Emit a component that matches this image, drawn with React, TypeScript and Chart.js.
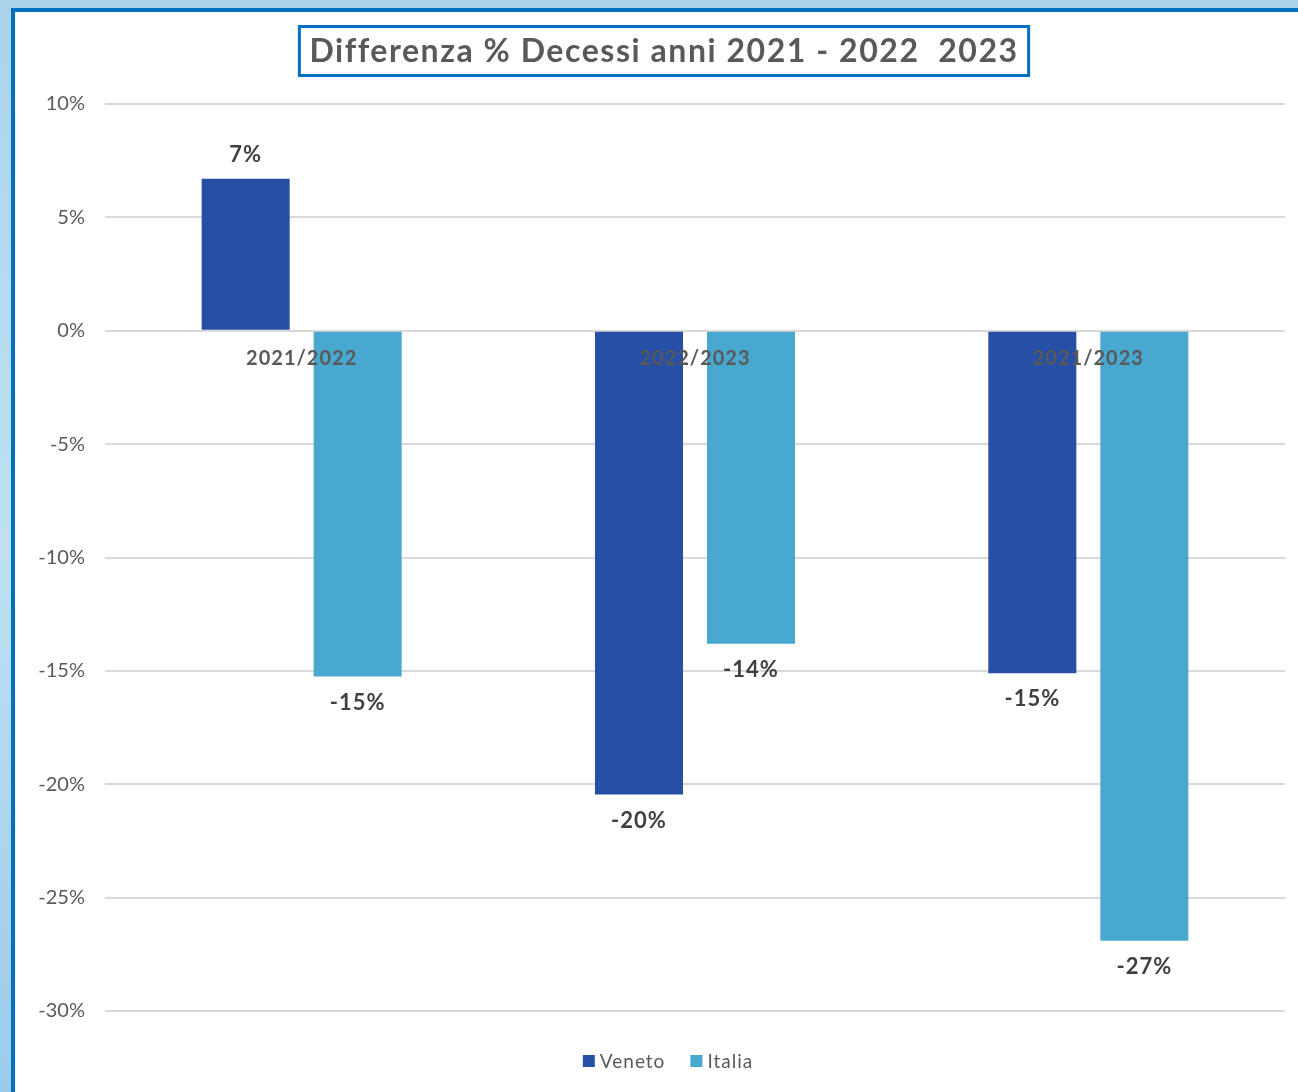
import React, { useEffect, useRef } from "react";
import { Chart, registerables } from "chart.js";

Chart.register(...registerables);

const categories = ["2021/2022", "2022/2023", "2021/2023"];
const seriesNames = ["Veneto", "Italia"];
const venetoValues = [6.7, -20.45, -15.1];
const italiaValues = [-15.25, -13.8, -26.9];
const seriesColors = ["#264FA5", "#49A8D0"];
const titleText = "Differenza % Decessi anni 2021 - 2022  2023";
const yMin = -30;
const yMax = 10;
const yStep = 5;

const FONT = "Lato, 'Open Sans', sans-serif";
const TEXT_GRAY = "#595959";
const LABEL_DARK = "#404040";
const FRAME_BLUE = "#0070C0";

const overlayPlugin = {
  id: "overlay",
  afterDatasetsDraw(chart: any) {
    const ctx = chart.ctx;
    const xs = chart.scales.x;
    const ys = chart.scales.y;
    ctx.save();
    ctx.textAlign = "center";
    ctx.textBaseline = "middle";
    // value labels
    ctx.font = `bold 22px ${FONT}`;
    (ctx as any).letterSpacing = "1px";
    ctx.fillStyle = LABEL_DARK;
    chart.data.datasets.forEach((ds: any, di: number) => {
      const meta = chart.getDatasetMeta(di);
      meta.data.forEach((bar: any, i: number) => {
        const v = ds.data[i];
        const yy = v >= 0 ? bar.y - 24 : bar.y + 26;
        ctx.fillText(`${Math.round(v)}%`, bar.x, yy);
      });
    });
    // category labels at zero line
    const y0 = ys.getPixelForValue(0);
    ctx.font = `bold 20px ${FONT}`;
    (ctx as any).letterSpacing = "1px";
    ctx.fillStyle = TEXT_GRAY;
    categories.forEach((c, i) => {
      ctx.fillText(c, xs.getPixelForValue(i), y0 + 28);
    });
    ctx.restore();
  },
  afterDraw(chart: any) {
    const ctx = chart.ctx;
    ctx.save();
    // title box
    ctx.font = `bold 32px ${FONT}`;
    (ctx as any).letterSpacing = "1.55px";
    const tw = ctx.measureText(titleText).width;
    const cx = 664;
    const cy = 51;
    const bw = tw + 20;
    const bh = 49;
    ctx.lineWidth = 3;
    ctx.strokeStyle = FRAME_BLUE;
    ctx.fillStyle = "#ffffff";
    ctx.beginPath();
    ctx.rect(cx - bw / 2, cy - bh / 2, bw, bh);
    ctx.fill();
    ctx.stroke();
    ctx.fillStyle = TEXT_GRAY;
    ctx.textAlign = "center";
    ctx.textBaseline = "middle";
    ctx.fillText(titleText, cx, cy + 1);

    // legend
    ctx.font = `19px ${FONT}`;
    (ctx as any).letterSpacing = "1px";
    const box = 12;
    const gapBoxText = 5;
    const gapItems = 25;
    const widths = seriesNames.map((n) => box + gapBoxText + ctx.measureText(n).width);
    const total = widths.reduce((a, b) => a + b, 0) + gapItems * (seriesNames.length - 1);
    let lx = 668 - total / 2;
    const ly = 1061;
    ctx.textAlign = "left";
    seriesNames.forEach((n, i) => {
      ctx.fillStyle = seriesColors[i];
      ctx.fillRect(lx, ly - box / 2, box, box);
      ctx.fillStyle = TEXT_GRAY;
      ctx.fillText(n, lx + box + gapBoxText, ly + 1);
      lx += widths[i] + gapItems;
    });
    ctx.restore();
  },
};

export default function App() {
  const canvasRef = useRef<HTMLCanvasElement | null>(null);

  useEffect(() => {
    if (!canvasRef.current) return;
    const chart = new Chart(canvasRef.current, {
      type: "bar",
      data: {
        labels: categories,
        datasets: [
          {
            label: seriesNames[0],
            data: venetoValues,
            backgroundColor: seriesColors[0],
            borderWidth: 0,
          },
          {
            label: seriesNames[1],
            data: italiaValues,
            backgroundColor: seriesColors[1],
            borderWidth: 0,
          },
        ],
      },
      options: {
        animation: false,
        responsive: false,
        devicePixelRatio: 1,
        datasets: {
          bar: {
            categoryPercentage: 0.5695,
            barPercentage: 0.786,
          },
        },
        layout: {
          padding: { top: 104, right: 13, bottom: 81, left: 0 },
        },
        plugins: {
          legend: { display: false },
          title: { display: false },
          tooltip: { enabled: false },
        },
        scales: {
          x: {
            display: false,
          },
          y: {
            min: yMin,
            max: yMax,
            ticks: {
              stepSize: yStep,
              padding: 20,
              color: TEXT_GRAY,
              font: { family: FONT, size: 20 },
              callback: (v: any) => `${v}%`,
            },
            grid: {
              color: "#D9D9D9",
              lineWidth: 2,
              drawTicks: false,
            },
            border: { display: false },
            afterFit: (scale: any) => {
              scale.width = 105;
            },
          },
        },
      },
      plugins: [overlayPlugin],
    });
    return () => chart.destroy();
  }, []);

  return (
    <div
      style={{
        position: "fixed",
        left: 0,
        top: 0,
        width: 1298,
        height: 1092,
        background: "linear-gradient(180deg, #A9D4EC 0%, #BFE1F3 50%, #9CCBE9 100%)",
        overflow: "hidden",
      }}
    >
      <div
        style={{
          position: "absolute",
          left: 11,
          top: 8,
          right: 0,
          bottom: 0,
          background: "#ffffff",
          borderLeft: `4px solid ${FRAME_BLUE}`,
          borderTop: `4px solid ${FRAME_BLUE}`,
        }}
      />
      <canvas
        ref={canvasRef}
        width={1298}
        height={1092}
        style={{ position: "absolute", left: 0, top: 0, width: 1298, height: 1092 }}
      />
    </div>
  );
}
